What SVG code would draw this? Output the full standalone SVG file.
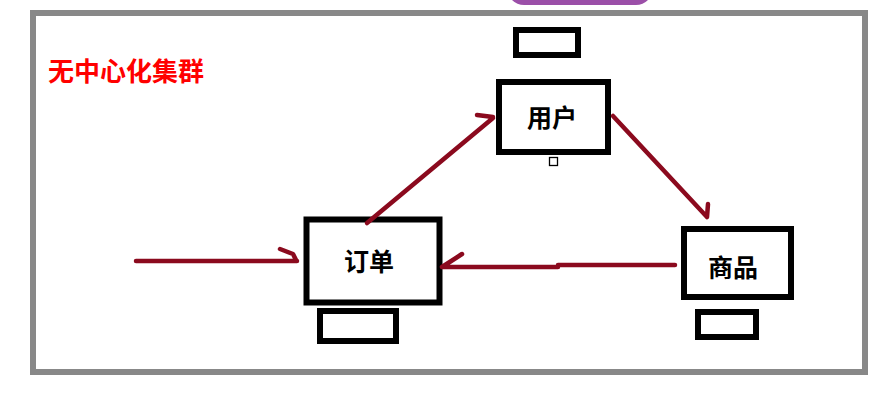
<svg xmlns="http://www.w3.org/2000/svg" width="893" height="401" viewBox="0 0 893 401">
<style>
.box{fill:#fff;stroke:#000;stroke-width:6}
.lbl{font-family:"Noto Sans CJK SC","Noto Sans",sans-serif;font-weight:bold;font-size:25px;fill:#000;text-anchor:middle}
.title{font-family:"Noto Sans CJK SC","Noto Sans",sans-serif;font-weight:bold;font-size:26px;fill:#ff0000}
.conn{fill:none;stroke:#8b0a1e;stroke-width:4.5;stroke-linecap:round;stroke-linejoin:round}
</style>
<rect width="893" height="401" fill="#fff"/>
<rect x="507" y="-30" width="146" height="35" rx="17" fill="#9b4fa8"/>
<rect x="33" y="13" width="832" height="359" fill="#fff" stroke="#888" stroke-width="6"/>
<text class="title" x="48" y="81">无中心化集群</text>
<g id="user">
<rect class="box" x="516" y="30" width="62" height="25"/>
<rect class="box" x="499" y="82" width="109" height="70"/>
<text class="lbl" x="552" y="127">用户</text>
<rect x="549.5" y="157.5" width="8" height="8" fill="#fff" stroke="#000" stroke-width="1.3"/>
</g>
<g id="order">
<rect class="box" x="306.5" y="219.5" width="133" height="83" stroke-width="7"/>
<text class="lbl" x="369" y="271" font-size="26">订单</text>
<rect class="box" x="320" y="311" width="76" height="30"/>
</g>
<g id="goods">
<rect class="box" x="684" y="229" width="107" height="68"/>
<text class="lbl" x="733" y="277">商品</text>
<rect class="box" x="698" y="312" width="58" height="25"/>
</g>
<g id="connectors">
<path class="conn" d="M136,261 L297,261 M280,249 L293,254 L296,260"/>
<path class="conn" d="M675,265 L558,265 L558,267 L442,267 M442,267 L462,254"/>
<path class="conn" d="M367,223 L493,118 M477,115 L493,117"/>
<path class="conn" d="M613,116 L707,217 M707,217 L708,204"/>
</g>
</svg>
